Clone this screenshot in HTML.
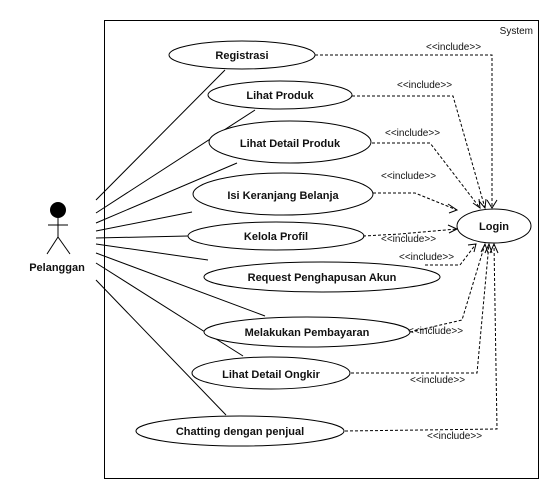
<!DOCTYPE html>
<html><head><meta charset="utf-8"><style>
html,body{margin:0;padding:0;background:#fff}
svg{display:block}
.u{font-family:"Liberation Sans",sans-serif;font-size:11px;font-weight:bold;fill:#111}
.i{font-family:"Liberation Sans",sans-serif;font-size:10px;fill:#111}
</style></head><body>
<svg width="560" height="500" viewBox="0 0 560 500" xmlns="http://www.w3.org/2000/svg">
<rect x="104.5" y="20.5" width="434" height="458" fill="none" stroke="#000" stroke-width="1"/>
<text x="533" y="34" class="i" text-anchor="end">System</text>
<!-- actor -->
<circle cx="58" cy="210" r="8" fill="#000"/>
<g stroke="#000" stroke-width="1" fill="none">
<line x1="58" y1="218" x2="58" y2="237"/>
<line x1="48" y1="225" x2="68" y2="225"/>
<line x1="58" y1="237" x2="47" y2="254"/>
<line x1="58" y1="237" x2="70" y2="254"/>
<!-- assoc lines -->
<line x1="96" y1="200" x2="225" y2="70"/>
<line x1="96" y1="213" x2="255" y2="110"/>
<line x1="96" y1="223" x2="237" y2="163"/>
<line x1="96" y1="231" x2="192" y2="212"/>
<line x1="96" y1="238" x2="188" y2="236"/>
<line x1="96" y1="244" x2="208" y2="260"/>
<line x1="96" y1="253" x2="265" y2="316"/>
<line x1="96" y1="263" x2="243" y2="356"/>
<line x1="96" y1="280" x2="226" y2="415"/>
</g>
<text x="57" y="271" class="u" text-anchor="middle">Pelanggan</text>
<!-- ellipses -->
<g fill="#fff" stroke="#000" stroke-width="1">
<ellipse cx="242" cy="55" rx="73" ry="14"/>
<ellipse cx="280" cy="95" rx="72" ry="14"/>
<ellipse cx="290" cy="142" rx="81" ry="21"/>
<ellipse cx="283" cy="194" rx="90" ry="21"/>
<ellipse cx="276" cy="236" rx="88" ry="14"/>
<ellipse cx="494" cy="226" rx="37" ry="17"/>
<ellipse cx="322" cy="277" rx="118" ry="15"/>
<ellipse cx="307" cy="332" rx="103" ry="15"/>
<ellipse cx="271" cy="373" rx="79" ry="16"/>
<ellipse cx="240" cy="431" rx="104" ry="15"/>
</g>
<g class="u" text-anchor="middle">
<text x="242" y="59">Registrasi</text>
<text x="280" y="99">Lihat Produk</text>
<text x="290" y="147">Lihat Detail Produk</text>
<text x="283" y="199">Isi Keranjang Belanja</text>
<text x="276" y="240">Kelola Profil</text>
<text x="494" y="230">Login</text>
<text x="322" y="281">Request Penghapusan Akun</text>
<text x="307" y="336">Melakukan Pembayaran</text>
<text x="271" y="378">Lihat Detail Ongkir</text>
<text x="240" y="435">Chatting dengan penjual</text>
</g>
<!-- include connectors -->
<g fill="none" stroke="#000" stroke-width="1" stroke-dasharray="3,2">
<polyline points="315,55 492,55 492,208"/>
<polyline points="352,96 453,96 485,208"/>
<polyline points="372,143 430,143 480,208"/>
<polyline points="373,193 415,193 457,210"/>
<polyline points="363,236 400,234 457,229"/>
<polyline points="425,265 460,265 476,244"/>
<polyline points="410,332 462,320 485,244"/>
<polyline points="351,373 477,373 489,244"/>
<polyline points="345,431 497,429 494,244"/>
</g>
<g fill="none" stroke="#000" stroke-width="1">
<polyline points="487,200 492,208 497,200"/>
<polyline points="479,201 485,208 486,199"/>
<polyline points="473,203 480,208 479,199"/>
<polyline points="448,204 457,210 449,213"/>
<polyline points="448,225 457,229 449,233"/>
<polyline points="468,245 476,244 474,252"/>
<polyline points="481,252 485,244 488,253"/>
<polyline points="485,253 489,244 492,253"/>
<polyline points="490,253 494,244 498,253"/>
</g>
<g class="i">
<text x="426" y="50">&lt;&lt;include&gt;&gt;</text>
<text x="397" y="88">&lt;&lt;include&gt;&gt;</text>
<text x="385" y="136">&lt;&lt;include&gt;&gt;</text>
<text x="381" y="179">&lt;&lt;include&gt;&gt;</text>
<text x="381" y="242">&lt;&lt;include&gt;&gt;</text>
<text x="399" y="260">&lt;&lt;include&gt;&gt;</text>
<text x="408" y="334">&lt;&lt;include&gt;&gt;</text>
<text x="410" y="383">&lt;&lt;include&gt;&gt;</text>
<text x="427" y="439">&lt;&lt;include&gt;&gt;</text>
</g>
</svg>
</body></html>
